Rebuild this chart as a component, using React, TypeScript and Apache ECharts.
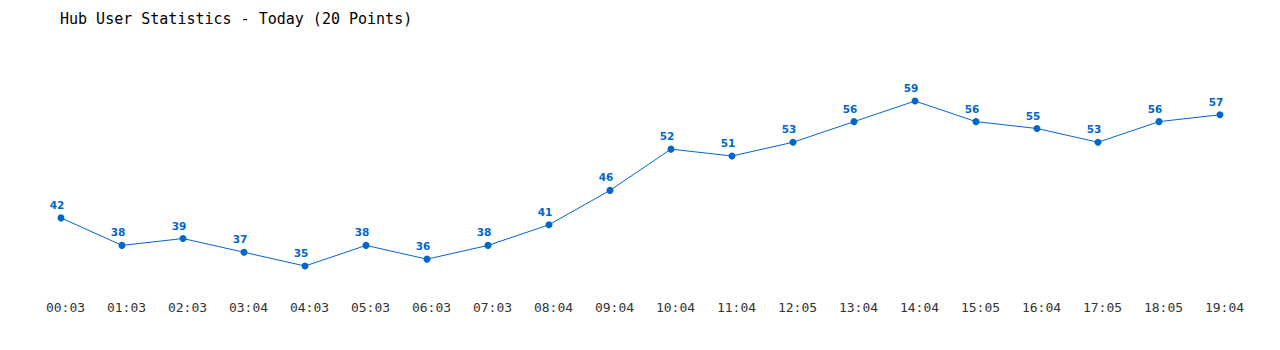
import React, { useEffect, useRef } from "react";
import * as echarts from "echarts";

const titleText = "Hub User Statistics - Today (20 Points)";
const times = ["00:03","01:03","02:03","03:04","04:03","05:03","06:03","07:03","08:04","09:04","10:04","11:04","12:05","13:04","14:04","15:05","16:04","17:05","18:05","19:04"];
const users = [42,38,39,37,35,38,36,38,41,46,52,51,53,56,59,56,55,53,56,57];

export default function App() {
  const ref = useRef<HTMLDivElement>(null);
  useEffect(() => {
    if (!ref.current) return;
    const chart = echarts.init(ref.current, null, { renderer: "svg" });
    chart.setOption({
      animation: false,
      backgroundColor: "#ffffff",
      title: {
        text: titleText,
        left: 55,
        top: 6,
        textStyle: { fontFamily: "DejaVu Sans Mono", fontSize: 15, fontWeight: "normal", color: "#000" },
      },
      grid: { left: 61, right: 60, top: 59.75, bottom: 49.6 },
      xAxis: {
        type: "category",
        data: times,
        boundaryGap: false,
        axisLine: { show: false },
        axisTick: { show: false },
        splitLine: { show: false },
        axisLabel: { color: "#333", fontFamily: "DejaVu Sans Mono", fontSize: 13, margin: 1, padding: [0, 0, 0, 9] },
      },
      yAxis: {
        type: "value",
        min: 30,
        max: 65,
        show: false,
        splitLine: { show: false },
      },
      series: [{
        type: "line",
        data: users,
        symbol: "circle",
        symbolSize: 7,
        itemStyle: { color: "#0066cc" },
        lineStyle: { color: "#0066cc", width: 1 },
        label: {
          show: true,
          position: "top",
          distance: 4,
          offset: [-4, 0],
          color: "#0066cc",
          fontFamily: "DejaVu Sans",
          fontWeight: "bold",
          fontSize: 10.5,
        },
      }],
    });
    return () => chart.dispose();
  }, []);
  return <div ref={ref} style={{ width: 1280, height: 350, position: "absolute", left: 0, top: 0 }} />;
}
